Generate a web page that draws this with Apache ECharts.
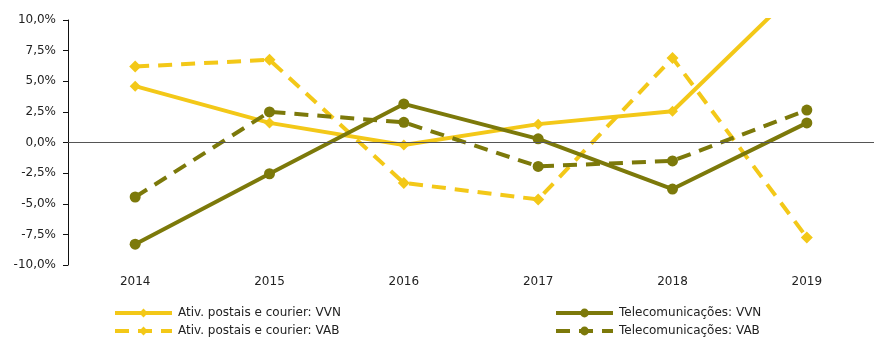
<!DOCTYPE html>
<html>
<head>
<meta charset="utf-8">
<script src="https://cdn.jsdelivr.net/npm/echarts@6/dist/echarts.min.js"></script>
<style>html,body{margin:0;padding:0;background:#fff;}#c{width:874px;height:341px;}</style>
</head>
<body>
<div id="c"></div>
<script>
var years = ['2014', '2015', '2016', '2017', '2018', '2019'];
var postaisVVN = [4.6, 1.6, -0.2, 1.5, 2.55, 13.2];
var postaisVAB = [6.2, 6.75, -3.3, -4.65, 6.9, -7.75];
var telecomVVN = [-8.3, -2.55, 3.15, 0.3, -3.8, 1.6];
var telecomVAB = [-4.45, 2.5, 1.65, -1.95, -1.5, 2.65];
var names = ['Ativ. postais e courier: VVN', 'Ativ. postais e courier: VAB', 'Telecomunicações: VVN', 'Telecomunicações: VAB'];

var yellow = '#F3C818';
var olive = '#7C790A';
var font = 'DejaVu Sans, Verdana, sans-serif';

var chart = echarts.init(document.getElementById('c'), null, {renderer: 'canvas'});
function mk(name, data, color, dashed, symbol, size) {
  return {
    name: name, type: 'line', data: data,
    symbol: symbol, symbolSize: size,
    itemStyle: {color: color},
    lineStyle: {color: color, width: 4, type: dashed ? [14, 9] : 'solid'},
    clip: true, animation: false
  };
}
var s1 = mk(names[0], postaisVVN, yellow, false, 'diamond', 11);
s1.markLine = {
  silent: true, symbol: 'none', animation: false,
  label: {show: false},
  lineStyle: {color: '#555', width: 1, type: 'solid'},
  data: [{yAxis: 0}]
};
function lg(name, left, top) {
  return {
    data: [name], orient: 'horizontal', left: left, top: top,
    itemWidth: 57, itemHeight: 11, padding: 0,
    lineStyle: {width: 4},
    textStyle: {fontSize: 12, fontFamily: font, color: '#222', padding: [0, 0, 0, 1]}
  };
}
var option = {
  backgroundColor: '#fff',
  animation: false,
  grid: {left: 68, right: -17, top: 20, bottom: 76},
  xAxis: {
    type: 'category', data: years, boundaryGap: true,
    axisLine: {show: false}, axisTick: {show: false},
    axisLabel: {color: '#222', fontSize: 12, fontFamily: font, margin: 11}
  },
  yAxis: {
    type: 'value', min: -10, max: 10, interval: 2.5,
    axisLine: {show: true, lineStyle: {color: '#111', width: 1}},
    axisTick: {show: true, length: 5, lineStyle: {color: '#111'}},
    splitLine: {show: false},
    axisLabel: {
      color: '#222', fontSize: 12, fontFamily: font, margin: 12,
      formatter: function (v) { return v.toFixed(1).replace('.', ',') + '%'; }
    }
  },
  legend: [
    lg(names[0], 113, 307),
    lg(names[1], 113, 325),
    lg(names[2], 554, 307),
    lg(names[3], 554, 325)
  ],
  series: [
    s1,
    mk(names[1], postaisVAB, yellow, true, 'diamond', 12),
    mk(names[2], telecomVVN, olive, false, 'circle', 11),
    mk(names[3], telecomVAB, olive, true, 'circle', 11)
  ]
};
chart.setOption(option);
</script>
</body>
</html>
